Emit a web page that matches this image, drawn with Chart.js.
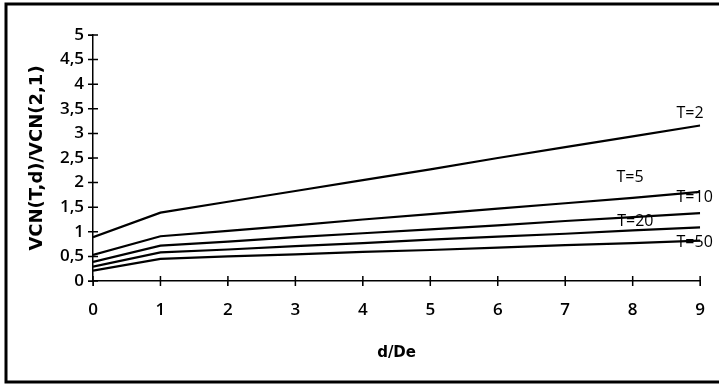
<!DOCTYPE html>
<html>
<head>
<meta charset="utf-8">
<script src="https://cdn.jsdelivr.net/npm/chart.js@4/dist/chart.umd.min.js"></script>
<style>
  body { margin: 0; background: #fff; }
  canvas { display: block; }
</style>
</head>
<body>
<canvas id="chart" width="719" height="385"></canvas>
<script>
// d/De sur l'axe horizontal
const dValues = [0, 1, 2, 3, 4, 5, 6, 7, 8, 9];

// VCN(T,d)/VCN(2,1) pour chaque période de retour
const vcnT2 = [0.89, 1.39, 1.61, 1.83, 2.05, 2.27, 2.50, 2.72, 2.94, 3.16];
const vcnT5 = [0.53, 0.91, 1.02, 1.13, 1.25, 1.36, 1.47, 1.58, 1.69, 1.81];
const vcnT10 = [0.39, 0.72, 0.80, 0.89, 0.97, 1.05, 1.13, 1.22, 1.30, 1.38];
const vcnT20 = [0.29, 0.58, 0.64, 0.71, 0.77, 0.84, 0.90, 0.96, 1.03, 1.09];
const vcnT50 = [0.21, 0.45, 0.50, 0.54, 0.59, 0.63, 0.68, 0.73, 0.77, 0.82];

const seriesNames = ["T=2", "T=5", "T=10", "T=20", "T=50"];
// début des étiquettes (en unités du graphique : d/De, VCN)
const labelAt = [[8.65, 3.41], [7.76, 2.11], [8.65, 1.69], [7.77, 1.22], [8.65, 0.79]];

const yTicks = [0, 0.5, 1, 1.5, 2, 2.5, 3, 3.5, 4, 4.5, 5];

function toPoints(values) {
  return values.map((v, i) => ({ x: dValues[i], y: v }));
}

const allSeries = [vcnT2, vcnT5, vcnT10, vcnT20, vcnT50];

const frame = {
  id: "frame",
  beforeDraw(chart) {
    const ctx = chart.ctx;
    ctx.save();
    ctx.fillStyle = "#fff";
    ctx.fillRect(0, 0, chart.width, chart.height);
    ctx.strokeStyle = "#000";
    ctx.lineWidth = 3;
    ctx.beginPath();
    ctx.moveTo(chart.width + 2, 4);
    ctx.lineTo(6, 4);
    ctx.lineTo(6, 382);
    ctx.lineTo(chart.width + 2, 382);
    ctx.stroke();
    ctx.restore();
  }
};

// petits traits qui traversent les axes + étiquettes des courbes
const crossTicks = {
  id: "crossTicks",
  afterDraw(chart) {
    const ctx = chart.ctx;
    const x = chart.scales.x;
    const y = chart.scales.y;
    const x0 = x.getPixelForValue(0);
    const y0 = y.getPixelForValue(0);
    ctx.save();
    ctx.strokeStyle = "#000";
    ctx.lineWidth = 1.5;
    ctx.beginPath();
    x.ticks.forEach(t => {
      const px = x.getPixelForValue(t.value);
      ctx.moveTo(px, y0 - 5);
      ctx.lineTo(px, y0 + 5);
    });
    y.ticks.forEach(t => {
      const py = y.getPixelForValue(t.value);
      ctx.moveTo(x0 - 5, py);
      ctx.lineTo(x0 + 5, py);
    });
    ctx.stroke();

    ctx.fillStyle = "#000";
    ctx.font = "500 16px 'Open Sans'";
    ctx.textAlign = "left";
    ctx.textBaseline = "middle";
    seriesNames.forEach((name, i) => {
      ctx.fillText(name, x.getPixelForValue(labelAt[i][0]), y.getPixelForValue(labelAt[i][1]));
    });
    ctx.restore();
  }
};

const ctx = document.getElementById("chart").getContext("2d");

new Chart(ctx, {
  type: "line",
  data: {
    datasets: allSeries.map((values, i) => ({
      label: seriesNames[i],
      data: toPoints(values),
      borderColor: "#000",
      borderWidth: 2.2,
      pointRadius: 0,
      tension: 0,
      fill: false
    }))
  },
  options: {
    responsive: false,
    animation: false,
    layout: { padding: { left: 0, top: 35, right: 11, bottom: 0 } },
    plugins: {
      legend: { display: false },
      tooltip: { enabled: false }
    },
    scales: {
      x: {
        type: "linear",
        min: 0,
        max: 9,
        afterFit: scale => { scale.height = 104; },
        ticks: {
          stepSize: 1,
          color: "#000",
          padding: 14,
          font: { family: "'Open Sans'", size: 17, weight: "600" }
        },
        grid: { drawOnChartArea: false, drawTicks: true, tickLength: 5, color: "#000" },
        border: { display: true, color: "#000", width: 1.5 },
        title: {
          display: true,
          text: "d/De",
          color: "#000",
          padding: { top: 0, bottom: 23 },
          font: { family: "'DejaVu Sans'", size: 15, weight: "bold" }
        }
      },
      y: {
        min: 0,
        max: 5,
        afterFit: scale => { scale.width = 93; },
        afterBuildTicks: scale => { scale.ticks = yTicks.map(v => ({ value: v })); },
        ticks: {
          color: "#000",
          padding: 4,
          font: { family: "'Open Sans'", size: 17, weight: "600" },
          callback: v => String(v).replace(".", ",")
        },
        grid: { drawOnChartArea: false, drawTicks: true, tickLength: 5, color: "#000" },
        border: { display: true, color: "#000", width: 1.5 },
        title: {
          display: true,
          text: "VCN(T,d)/VCN(2,1)",
          color: "#000",
          padding: { top: 27, bottom: 0 },
          font: { family: "'DejaVu Sans'", size: 18, weight: "bold" }
        }
      }
    }
  },
  plugins: [frame, crossTicks]
});
</script>
</body>
</html>
